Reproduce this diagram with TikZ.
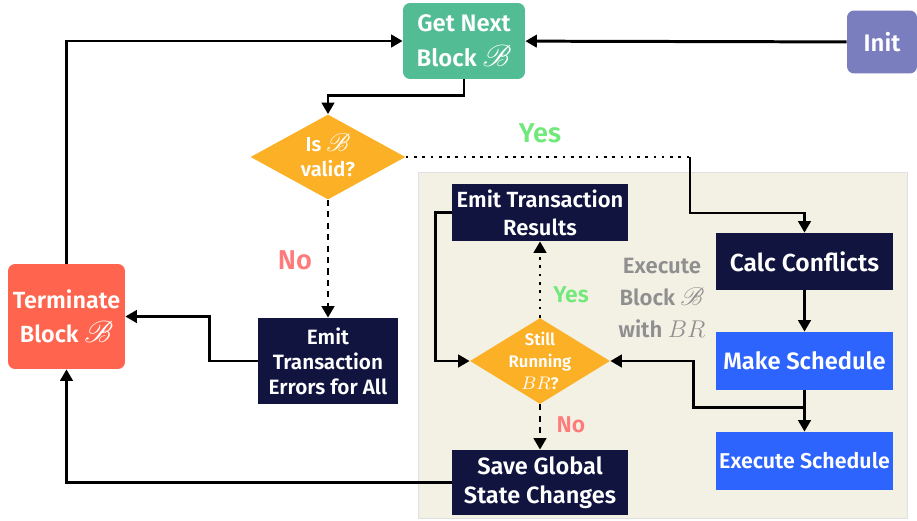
\documentclass[tikz,border=0pt]{standalone}
\usepackage{amsmath}
\usepackage{mathrsfs}
\usepackage{graphicx}
\usepackage{fontspec}
\setmainfont{Fira Sans}[BoldFont={Fira Sans SemiBold}]
\usepackage{tikz}
\usetikzlibrary{arrows.meta,positioning,shapes.geometric}
\definecolor{mint}{RGB}{82,188,148}
\definecolor{lilac}{RGB}{122,126,191}
\definecolor{amber}{RGB}{251,176,37}
\definecolor{navy}{RGB}{16,20,63}
\definecolor{royal}{RGB}{46,100,254}
\definecolor{coral}{RGB}{255,101,78}
\definecolor{sand}{RGB}{243,241,228}
\definecolor{yesgreen}{RGB}{112,232,122}
\definecolor{nored}{RGB}{255,123,123}
\definecolor{greytxt}{RGB}{143,143,143}
% block symbol
\newcommand{\blk}{\smash{\scalebox{1.2}{$\mathscr{B}$}}}
\newcommand{\br}{\smash{\scalebox{1.15}{$BR$}}}
\tikzset{
    %Define standard arrow tip
    >={Triangle[length=6.5pt,width=7pt]},
    %Define style for boxes
    stepbox/.style={
           rectangle,
           fill=navy,
           text=white,
           font=\bfseries,
           inner sep=0pt,
           align=center},
    roundbox/.style={
           stepbox,
           rounded corners=4pt},
    choice/.style={
           diamond,
           fill=amber,
           text=white,
           font=\bfseries,
           inner sep=-6pt,
           align=center},
    % Define arrow style
    link/.style={
           ->,
           line width=1.7pt},
    dotlink/.style={
           link,
           dash pattern=on 1.5pt off 3.2pt},
    dashlink/.style={
           link,
           dash pattern=on 3.5pt off 3pt},
    answer/.style={font=\bfseries\fontsize{13}{15}\selectfont}
}
\begin{document}
\begin{tikzpicture}[x=0.02cm,y=-0.02cm]
\useasboundingbox (0,0) rectangle (917,521);
% execution area
\draw[fill=sand,draw=black!12] (418,172) rectangle (907,518);

\node[roundbox,fill=mint,minimum width=2.44cm,minimum height=1.52cm,
  font=\bfseries\fontsize{13.6}{20}\selectfont](getnext) at (464,41){Get Next\\Block \blk};
\node[roundbox,fill=lilac,minimum width=1.4cm,minimum height=1.26cm,
  font=\bfseries\fontsize{13.6}{18}\selectfont](init) at (882,42){Init};
\node[choice,minimum width=3.1cm,minimum height=1.7cm,
  font=\bfseries\fontsize{11.5}{14.5}\selectfont](valid) at (328,157){Is \blk\\valid?};
\node[stepbox,minimum width=2.8cm,minimum height=1.72cm,
  font=\bfseries\fontsize{11.8}{14.2}\selectfont](errors) at (328,361){Emit\\Transaction\\Errors for All};
\node[roundbox,fill=coral,minimum width=2.34cm,minimum height=2.1cm,
  font=\bfseries\fontsize{13.3}{19.5}\selectfont](term) at (66.5,316.5){Terminate\\Block \blk};

\node[stepbox,minimum width=3.52cm,minimum height=1.14cm,
  font=\bfseries\fontsize{12.5}{16}\selectfont](results) at (540,212.5){Emit Transaction\\Results};
\node[choice,minimum width=2.8cm,minimum height=1.72cm,
  font=\bfseries\fontsize{9.5}{12.5}\selectfont](still) at (540,361){Still\\Running\\\br?};
\node[stepbox,minimum width=3.52cm,minimum height=1.3cm,
  font=\bfseries\fontsize{13.4}{16.5}\selectfont](save) at (540,482.5){Save Global\\State Changes};
\node[stepbox,minimum width=3.54cm,minimum height=1.14cm,
  font=\bfseries\fontsize{14}{16}\selectfont](calc) at (804.5,261.5){Calc Conflicts};
\node[stepbox,fill=royal,minimum width=3.54cm,minimum height=1.16cm,
  font=\bfseries\fontsize{13.5}{16}\selectfont](make) at (804.5,361){Make Schedule};
\node[stepbox,fill=royal,minimum width=3.54cm,minimum height=1.16cm,
  font=\bfseries\fontsize{12.2}{16}\selectfont](exec) at (804.5,461){Execute Schedule};
\node[text=greytxt,align=center,font=\bfseries\fontsize{12.6}{18}\selectfont](exectxt) at (662,298)
  {Execute\\Block \blk\\with \br};

% answers
\node[answer,text=yesgreen,font=\bfseries\fontsize{15.5}{17}\selectfont](yes1) at (540,133){Yes};
\node[answer,text=nored,font=\bfseries\fontsize{15.5}{17}\selectfont](no1) at (295,260){No};
\node[answer,text=yesgreen](yes2) at (571,295){Yes};
\node[answer,text=nored](no2) at (571,425){No};

% connectors
\coordinate (turn) at (690,157);
\draw[link] (init) -- (getnext);
\draw[link] (getnext.south) -- ++(0,16) -| (valid.north);
\draw[dotlink,-] (valid.east) -- (turn);
\draw[link] (turn) -- ++(0,56) -| (calc.north);
\draw[dashlink] (valid.south) -- (errors.north);
\draw[link] (errors.west) -- ++(-48,0) |- (term.east);
\draw[link] (term.north) |- (getnext.west);
\draw[link] (save.west) -| (term.south);
\draw[link] (calc) -- (make);
\draw[link] (make) -- (exec);
\draw[link] ([yshift=-0.34cm]make.south) -- ++(-111,0) |- (still.east);
\draw[dotlink] (still.north) -- (results.south);
\draw[link] (results.west) -- ++(-16,0) |- (still.west);
\draw[dashlink] (still.south) -- (save.north);
\end{tikzpicture}
\end{document}
